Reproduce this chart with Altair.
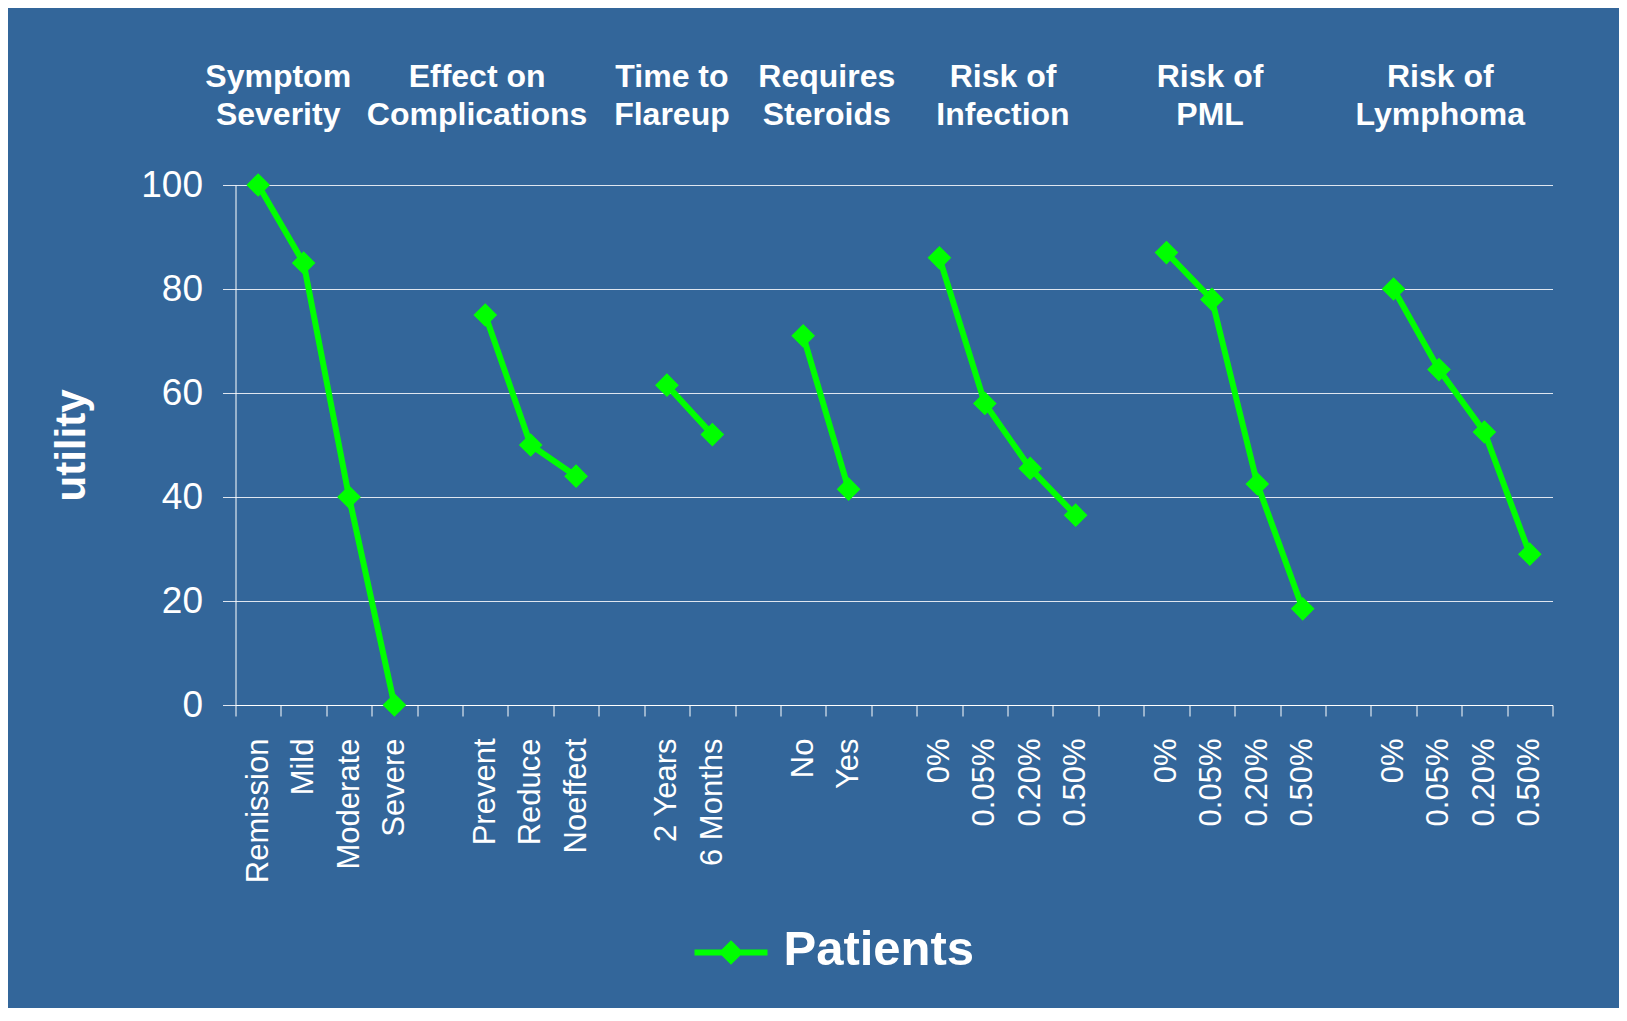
import altair as alt
import pandas as pd
import json

FONT = "Liberation Sans"
GREEN = "#00ff00"
BG = "#33669a"

# ---- data ----
symptom_labels = ["Remission", "Mild", "Moderate", "Severe"]
symptom_values = [100, 85, 40, 0]

effect_labels = ["Prevent", "Reduce", "Noeffect"]
effect_values = [75, 50, 44]

flare_labels = ["2 Years", "6 Months"]
flare_values = [61.5, 52]

steroid_labels = ["No", "Yes"]
steroid_values = [71, 41.5]

infection_labels = ["0%", "0.05%", "0.20%", "0.50%"]
infection_values = [86, 58, 45.5, 36.5]

pml_labels = ["0%", "0.05%", "0.20%", "0.50%"]
pml_values = [87, 78, 42.5, 18.5]

lymphoma_labels = ["0%", "0.05%", "0.20%", "0.50%"]
lymphoma_values = [80, 64.5, 52.5, 29]

group_titles = [
    "Symptom\nSeverity",
    "Effect on\nComplications",
    "Time to\nFlareup",
    "Requires\nSteroids",
    "Risk of\nInfection",
    "Risk of\nPML",
    "Risk of\nLymphoma",
]
# horizontal anchor of each group title, in category-slot units (layout)
title_slots = [0.94, 5.32, 9.61, 13.02, 16.90, 21.46, 26.53]

series_name = "Patients"

groups = [
    (symptom_labels, symptom_values),
    (effect_labels, effect_values),
    (flare_labels, flare_values),
    (steroid_labels, steroid_values),
    (infection_labels, infection_values),
    (pml_labels, pml_values),
    (lymphoma_labels, lymphoma_values),
]

# category slots: each group's categories, with one empty slot between groups
slot_labels = []
rows = []
for gi, (labels, vals) in enumerate(groups):
    if gi > 0:
        slot_labels.append("")
    for lab, v in zip(labels, vals):
        rows.append({"slot": len(slot_labels) + 0.5, "utility": v, "group": gi, "series": series_name})
        slot_labels.append(lab)

n_slots = len(slot_labels)
df = pd.DataFrame(rows)
tdf = pd.DataFrame({"title": group_titles, "pos": title_slots})

W, H = 1317, 520
label_expr = json.dumps(slot_labels + [""]) + "[datum.value] || ''"

x_scale = alt.Scale(domain=[0, n_slots], nice=False, zero=False)

lines = alt.Chart(df).mark_line(
    strokeWidth=6,
    point=alt.OverlayMarkDef(shape="diamond", size=560, filled=True, opacity=1),
).encode(
    x=alt.X(
        "slot:Q",
        scale=x_scale,
        axis=alt.Axis(
            orient="bottom",
            title=None,
            values=list(range(n_slots + 1)),
            labelExpr=label_expr,
            labelAngle=-90,
            labelAlign="right",
            labelBaseline="middle",
            labelOffset=W / n_slots / 2,
            labelFlush=False,
            labelOverlap=False,
            labelBound=False,
            labelFont=FONT,
            labelFontSize=31,
            labelColor="white",
            labelPadding=22,
            labelLimit=400,
            tickSize=11,
            tickColor="white",
            tickWidth=1,
            domainColor="white",
            domainWidth=1,
            grid=False,
        ),
    ),
    y=alt.Y(
        "utility:Q",
        scale=alt.Scale(domain=[0, 100], nice=False),
        axis=alt.Axis(
            values=[0, 20, 40, 60, 80, 100],
            title="utility",
            titleFont=FONT,
            titleFontSize=42,
            titleFontWeight="bold",
            titleColor="white",
            titlePadding=47,
            labelFont=FONT,
            labelFontSize=37,
            labelColor="white",
            labelPadding=20,
            tickSize=13,
            tickColor="#dfe6f0",
            domainColor="white",
            domainWidth=1,
            grid=True,
            gridColor="#dfe6f0",
            gridWidth=1,
        ),
    ),
    color=alt.Color(
        "series:N",
        scale=alt.Scale(domain=[series_name], range=[GREEN]),
        legend=alt.Legend(
            title=None,
            orient="none",
            legendX=456,
            legendY=725,
            direction="horizontal",
            padding=0,
            labelFont=FONT,
            labelFontSize=49,
            labelFontWeight="bold",
            labelColor="white",
            labelOffset=13,
            labelLimit=600,
            symbolType="M-1,0.08L1,0.08M0,-0.14L0.22,0.08L0,0.3L-0.22,0.08Z",
            symbolSize=5329,
            symbolStrokeWidth=6,
            symbolFillColor=GREEN,
            symbolStrokeColor=GREEN,
        ),
    ),
    detail="group:N",
)

titles = alt.Chart(tdf).mark_text(
    font=FONT,
    fontSize=32,
    fontWeight="bold",
    color="white",
    align="center",
    baseline="alphabetic",
    lineBreak="\n",
    lineHeight=38,
).encode(
    x=alt.X("pos:Q", scale=x_scale),
    y=alt.value(-98),
    text="title:N",
)

chart = (
    alt.layer(lines, titles)
    .properties(
        width=W,
        height=H,
        autosize=alt.AutoSizeParams(type="none"),
        padding={"left": 227.5, "top": 177, "right": 66, "bottom": 303},
        background=BG,
    )
    .configure_view(stroke=None)
)

chart.save("out.html", embed_options={"renderer": "svg", "actions": False})
